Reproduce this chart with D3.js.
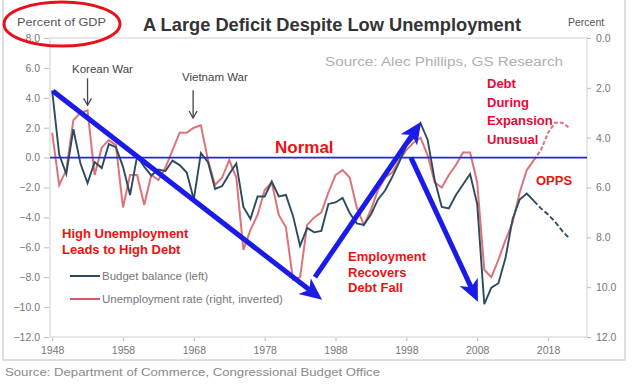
<!DOCTYPE html>
<html>
<head>
<meta charset="utf-8">
<script src="https://cdn.jsdelivr.net/npm/d3@7"></script>
<style>
  body { margin: 0; background: #fff; }
  text { font-family: "Liberation Sans", Arial, sans-serif; }
</style>
</head>
<body>
<svg id="chart" width="635" height="391"></svg>
<script>
// years 1948..2021
var years = d3.range(1948, 2022)

// budget balance, % of GDP (left axis)
var budget = [4.5, 0.2, -1.1, 1.9, -0.4, -1.7, -0.3, -0.7, 0.9, 0.7,
  -0.6, -2.5, 0.1, -0.6, -1.2, -0.8, -0.9, -0.2, -0.5, -1.0,
  -2.8, 0.3, -0.3, -2.1, -1.9, -1.1, -0.4, -3.3, -4.1, -2.6,
  -2.6, -1.6, -2.6, -2.5, -3.9, -5.9, -4.7, -5.0, -4.9, -3.1,
  -3.0, -2.7, -3.7, -4.4, -4.5, -3.8, -2.8, -2.2, -1.3, -0.3,
  0.8, 1.3, 2.3, 1.2, -1.5, -3.3, -3.4, -2.5, -1.8, -1.1,
  -3.1, -9.8, -8.7, -8.4, -6.7, -4.1, -2.8, -2.4, -2.9, -3.4,
  -3.8, -4.3, -4.9, -5.4]

// unemployment rate, % (right axis, inverted)
var unemp = [3.8, 5.9, 5.3, 3.3, 3.0, 2.9, 5.5, 4.4, 4.1, 4.3,
  6.8, 5.5, 5.5, 6.7, 5.5, 5.7, 5.2, 4.5, 3.8, 3.8,
  3.6, 3.5, 4.9, 5.9, 5.6, 4.9, 5.6, 8.5, 7.7, 7.1,
  6.1, 5.8, 7.1, 7.6, 9.7, 9.6, 7.5, 7.2, 7.0, 6.2,
  5.5, 5.3, 5.6, 6.8, 7.5, 6.9, 6.1, 5.6, 5.4, 4.9,
  4.5, 4.2, 4.0, 4.7, 5.8, 6.0, 5.5, 5.1, 4.6, 4.6,
  5.8, 9.3, 9.6, 8.9, 8.1, 7.4, 6.2, 5.3, 4.9, 4.5,
  3.8, 3.4, 3.4, 3.6]

var dashFrom = 2016
var xTicks = [1948, 1958, 1968, 1978, 1988, 1998, 2008, 2018]
var leftTicks = [8, 6, 4, 2, 0, -2, -4, -6, -8, -10, -12]
var rightTicks = [0, 2, 4, 6, 8, 10, 12]

var dims = {
    width: 635,
    height: 391,
    plot: { left: 50, right: 587, top: 38, bottom: 337 }
}

var svg = d3.select("#chart")

var xScale = d3.scaleLinear().domain([1947.7, 2023.5]).range([dims.plot.left, dims.plot.right])
var yLeft = d3.scaleLinear().domain([-12, 8]).range([dims.plot.bottom, dims.plot.top])
var yRight = d3.scaleLinear().domain([12, 0]).range([dims.plot.bottom, dims.plot.top])

var balData = years.map((y, i) => ({ year: y, v: budget[i] }))
var unData = years.map((y, i) => ({ year: y, v: unemp[i] }))

// outer panel
svg.append("rect")
    .attr("x", 3).attr("y", -5).attr("width", 622).attr("height", 365)
    .attr("fill", "none").attr("stroke", "#d4d4d4").attr("stroke-width", 1.5)

// plot frame
svg.append("rect")
    .attr("x", dims.plot.left).attr("y", dims.plot.top)
    .attr("width", dims.plot.right - dims.plot.left)
    .attr("height", dims.plot.bottom - dims.plot.top)
    .attr("fill", "none").attr("stroke", "#cfcfcf")

// axes
var fmt = d3.format(".1f")
var leftAxis = svg.append("g")
    .attr("transform", `translate(${dims.plot.left - 1},0)`)
    .call(d3.axisLeft(yLeft).tickValues(leftTicks).tickFormat(fmt).tickSize(5).tickPadding(4))
var rightAxis = svg.append("g")
    .attr("transform", `translate(${dims.plot.right},0)`)
    .call(d3.axisRight(yRight).tickValues(rightTicks).tickFormat(fmt).tickSize(4).tickPadding(5))
var xAxis = svg.append("g")
    .attr("transform", `translate(0,${dims.plot.bottom + 1})`)
    .call(d3.axisBottom(xScale).tickValues(xTicks).tickFormat(d3.format("d")).tickSize(3).tickPadding(6))

svg.selectAll(".domain").remove()
svg.selectAll(".tick line").attr("stroke", "#bbb")
svg.selectAll(".tick text")
    .attr("fill", "#777")
    .style("font-size", "10.5px")
    .style("font-family", "'Liberation Sans', Arial, sans-serif")

// series lines
var balLine = d3.line().x(d => xScale(d.year)).y(d => yLeft(d.v))
var unLine = d3.line().x(d => xScale(d.year)).y(d => yRight(d.v))

svg.append("path").datum(unData.filter(d => d.year <= dashFrom))
    .attr("d", unLine).attr("fill", "none")
    .attr("stroke", "#d65a62").attr("stroke-opacity", 0.85).attr("stroke-width", 2)
svg.append("path").datum(unData.filter(d => d.year >= dashFrom))
    .attr("d", unLine).attr("fill", "none")
    .attr("stroke", "#d65a62").attr("stroke-opacity", 0.85).attr("stroke-width", 2)
    .attr("stroke-dasharray", "4,2")

svg.append("path").datum(balData.filter(d => d.year <= dashFrom))
    .attr("d", balLine).attr("fill", "none")
    .attr("stroke", "#2c4b5e").attr("stroke-width", 1.9)
svg.append("path").datum(balData.filter(d => d.year >= dashFrom))
    .attr("d", balLine).attr("fill", "none")
    .attr("stroke", "#2c4b5e").attr("stroke-width", 1.9)
    .attr("stroke-dasharray", "5,2.5")

// "normal" zero line
svg.append("line")
    .attr("x1", dims.plot.left).attr("x2", dims.plot.right)
    .attr("y1", yLeft(0)).attr("y2", yLeft(0))
    .attr("stroke", "#2424e8").attr("stroke-width", 1.6)

// war arrows (thin)
function warArrow(year, b1, b2) {
    var x = xScale(year), y1 = yLeft(b1), y2 = yLeft(b2)
    svg.append("line").attr("x1", x).attr("x2", x).attr("y1", y1).attr("y2", y2)
        .attr("stroke", "#444").attr("stroke-width", 1.3)
    svg.append("path")
        .attr("d", `M${x - 4},${y2 - 7} L${x},${y2} L${x + 4},${y2 - 7}`)
        .attr("fill", "none").attr("stroke", "#444").attr("stroke-width", 1.3)
}
warArrow(1953.0, 5.3, 3.5)
warArrow(1967.9, 4.5, 2.65)

// big blue arrows, in data coordinates
var bigArrows = [
    { from: [1948.1, 4.45], to: [1986.1, -9.5] },
    { from: [1985.1, -8.0], to: [2000.1, 2.4] },
    { from: [1998.65, 0.0], to: [2008.1, -9.65] }
]
bigArrows.forEach(function(a) {
    var x1 = xScale(a.from[0]), y1 = yLeft(a.from[1])
    var x2 = xScale(a.to[0]), y2 = yLeft(a.to[1])
    var ang = Math.atan2(y2 - y1, x2 - x1)
    var len = 22, half = 10, notch = 6
    var ux = Math.cos(ang), uy = Math.sin(ang)
    var bx = x2 - ux * len, by = y2 - uy * len
    svg.append("line")
        .attr("x1", x1).attr("y1", y1)
        .attr("x2", x2 - ux * (len - notch)).attr("y2", y2 - uy * (len - notch))
        .attr("stroke", "#1b1be8").attr("stroke-width", 5)
    svg.append("path")
        .attr("d", `M${x2},${y2} L${bx - uy * half},${by + ux * half} L${x2 - ux * (len - notch)},${y2 - uy * (len - notch)} L${bx + uy * half},${by - ux * half} Z`)
        .attr("fill", "#1b1be8")
})

// legend
var legend = [
    { label: "Budget balance (left)", color: "#2c4b5e", y: 276 },
    { label: "Unemployment rate (right, inverted)", color: "#d65a62", y: 299 }
]
legend.forEach(function(l) {
    svg.append("line").attr("x1", 70).attr("x2", 100).attr("y1", l.y).attr("y2", l.y)
        .attr("stroke", l.color).attr("stroke-width", 2)
    svg.append("text").attr("x", 102).attr("y", l.y + 4)
        .attr("fill", "#777").style("font-size", "11.5px").text(l.label)
})

// titles and notes
svg.append("text").attr("x", 143).attr("y", 31)
    .attr("fill", "#333").style("font-size", "19px").style("font-weight", "bold")
    .attr("textLength", 378).attr("lengthAdjust", "spacingAndGlyphs")
    .text("A Large Deficit Despite Low Unemployment")

svg.append("text").attr("x", 17).attr("y", 26)
    .attr("fill", "#555").style("font-size", "10.5px")
    .attr("textLength", 89).attr("lengthAdjust", "spacingAndGlyphs")
    .text("Percent of GDP")

svg.append("ellipse").attr("cx", 62).attr("cy", 24).attr("rx", 58).attr("ry", 22)
    .attr("fill", "none").attr("stroke", "#e8101c").attr("stroke-width", 3)

svg.append("text").attr("x", 568).attr("y", 26)
    .attr("fill", "#555").style("font-size", "10.5px").text("Percent")

svg.append("text").attr("x", 325).attr("y", 66)
    .attr("fill", "#b0b0b0").style("font-size", "12.5px")
    .attr("textLength", 238).attr("lengthAdjust", "spacingAndGlyphs")
    .text("Source: Alec Phillips, GS Research")

svg.append("text").attr("x", 72).attr("y", 73)
    .attr("fill", "#444").style("font-size", "11.5px").text("Korean War")
svg.append("text").attr("x", 182).attr("y", 81)
    .attr("fill", "#444").style("font-size", "11.5px").text("Vietnam War")

svg.append("text").attr("x", 275).attr("y", 153)
    .attr("fill", "#ee1111").style("font-size", "17px").style("font-weight", "bold")
    .text("Normal")

function redNote(lines, x, y0, step, color) {
    lines.forEach(function(t, i) {
        svg.append("text").attr("x", x).attr("y", y0 + i * step)
            .attr("fill", color).style("font-size", "13px").style("font-weight", "bold")
            .text(t)
    })
}
redNote(["Debt", "During", "Expansion", "Unusual"], 487, 88, 18.5, "#e80838")
redNote(["OPPS"], 536, 185, 0, "#ee1111")
redNote(["High Unemployment", "Leads to High Debt"], 62, 238, 15.5, "#f01010")
redNote(["Employment", "Recovers", "Debt Fall"], 348, 261, 15.5, "#ee1111")

svg.append("text").attr("x", 5).attr("y", 376)
    .attr("fill", "#8a8a8a").style("font-size", "11.5px")
    .attr("textLength", 375).attr("lengthAdjust", "spacingAndGlyphs")
    .text("Source: Department of Commerce, Congressional Budget Office")
</script>
</body>
</html>
